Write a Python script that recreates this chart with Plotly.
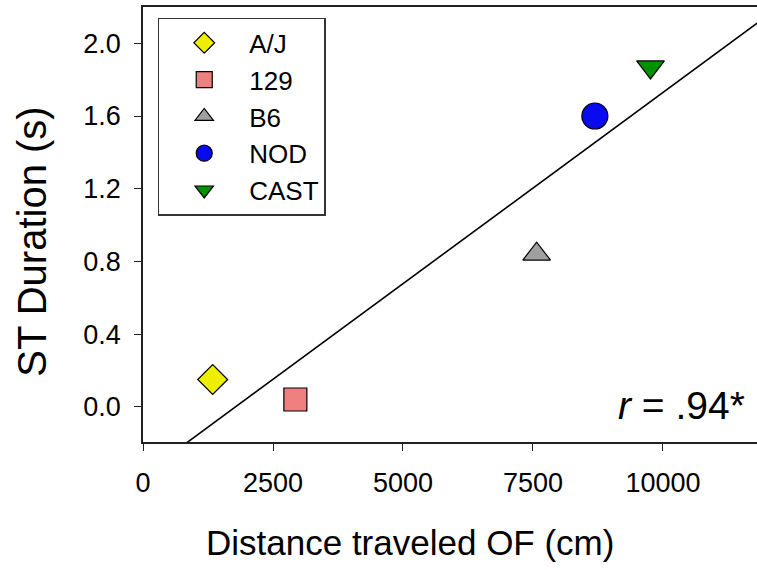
import numpy as np
import plotly.graph_objects as go

strains = ["A/J", "129", "B6", "NOD", "CAST"]
distance = [1340, 2930, 7570, 8690, 9760]
st_duration = [0.15, 0.04, 0.84, 1.60, 1.87]
symbols = ["diamond", "square", "triangle-up", "circle", "triangle-down"]
colors = ["#EEEE00", "#F08080", "#A0A0A0", "#0A0AF0", "#009200"]
sizes = [23, 23, 24, 26, 24]

x_ticks = [0, 2500, 5000, 7500, 10000]
y_ticks = [0.0, 0.4, 0.8, 1.2, 1.6, 2.0]

FONT = "Liberation Sans, Arial, sans-serif"

fig = go.Figure()

# regression line from the data
slope, intercept = np.polyfit(distance, st_duration, 1)
xl = np.array([0, 12000])
fig.add_trace(go.Scatter(x=xl, y=slope * xl + intercept, mode="lines",
                         line=dict(color="black", width=1.6),
                         showlegend=False, hoverinfo="skip"))

for name, xv, yv, sym, col, sz in zip(strains, distance, st_duration, symbols, colors, sizes):
    fig.add_trace(go.Scatter(
        x=[xv], y=[yv], mode="markers", name=name,
        marker=dict(symbol=sym, color=col, size=sz,
                    line=dict(color="black", width=1.2)),
    ))

fig.update_layout(
    width=757, height=570,
    margin=dict(l=143, r=0, t=7, b=128),
    plot_bgcolor="white", paper_bgcolor="white",
    font=dict(family=FONT, color="black"),
    showlegend=True,
    legend=dict(
        x=0.024, y=0.975, xanchor="left", yanchor="top",
        bordercolor="#333333", borderwidth=1.5, bgcolor="white",
        font=dict(size=26, family=FONT),
        itemwidth=80, tracegroupgap=0,
    ),
    xaxis=dict(
        range=[0, 11808], tickvals=x_ticks, ticktext=[str(v) for v in x_ticks],
        showline=True, linecolor="#222222", linewidth=1.5, mirror=True,
        ticks="outside", ticklen=7, tickwidth=1.2, tickcolor="#222222",
        ticklabelstandoff=9,
        showgrid=False, zeroline=False,
        tickfont=dict(size=27, family=FONT),
    ),
    yaxis=dict(
        range=[-0.194, 2.2], tickvals=y_ticks, ticktext=[f"{v:.1f}" for v in y_ticks],
        showline=True, linecolor="#222222", linewidth=1.5,
        ticks="outside", ticklen=7, tickwidth=1.2, tickcolor="#222222",
        ticklabelstandoff=8,
        showgrid=False, zeroline=False,
        tickfont=dict(size=27, family=FONT),
    ),
)

fig.add_annotation(
    text="Distance traveled OF (cm)", xref="paper", yref="paper",
    x=0.435, y=-0.232, xanchor="center", yanchor="middle",
    showarrow=False, font=dict(size=35, family=FONT, color="black"),
)
fig.add_annotation(
    text="ST Duration (s)", xref="paper", yref="paper", textangle=-90,
    x=-0.181, y=0.46, xanchor="center", yanchor="middle",
    showarrow=False, font=dict(size=40, family=FONT, color="black"),
)
fig.add_annotation(
    text="<i>r</i> = .94*", xref="paper", yref="paper",
    x=0.984, y=0.03, xanchor="right", yanchor="bottom",
    showarrow=False, font=dict(size=39, family=FONT, color="black"),
)

fig.write_html("out.html")
